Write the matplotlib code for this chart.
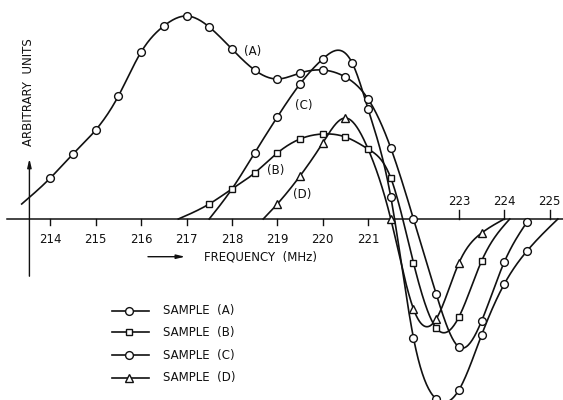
import numpy as np
import matplotlib
matplotlib.use("Agg")
import matplotlib.pyplot as plt

# frequency (MHz) and response (arbitrary units)
a_freq = [213.37, 214.0, 214.5, 215.0, 215.5, 216.0, 216.5, 217.0, 217.5, 218.0, 218.5,
          219.0, 219.5, 220.0, 220.5, 221.0, 221.5, 222.0, 222.5, 223.0, 223.5, 224.0, 224.5]
a_val = [1.5, 4.1, 6.5, 8.9, 12.3, 16.7, 19.3, 20.3, 19.2, 17.0, 14.9,
         14.0, 14.6, 14.9, 14.2, 12.0, 7.1, 0.0, -7.5, -12.8, -10.2, -4.3, -0.3]
a_bare = [0]

b_freq = [216.82, 217.5, 218.0, 218.5, 219.0, 219.5, 220.0, 220.5, 221.0, 221.5,
          222.0, 222.5, 223.0, 223.5, 224.12]
b_val = [0.0, 1.5, 3.0, 4.6, 6.6, 8.0, 8.5, 8.2, 7.0, 4.1,
         -4.4, -10.9, -9.8, -4.2, 0.0]
b_bare = [0, 14]

c_freq = [217.5, 218.0, 218.5, 219.0, 219.5, 220.0, 220.65, 221.0, 221.5, 222.0,
          222.5, 223.0, 223.5, 224.0, 224.5, 225.18]
c_val = [0.0, 3.0, 6.6, 10.2, 13.5, 16.0, 15.6, 11.0, 2.2, -11.9,
         -18.0, -17.1, -11.6, -6.5, -3.2, 0.0]
c_bare = [0, 1, 15]

d_freq = [218.69, 219.0, 219.5, 220.0, 220.5, 221.0, 221.5, 222.0, 222.5, 223.0, 223.5, 224.0]
d_val = [0.0, 1.5, 4.3, 7.6, 10.1, 7.0, 0.0, -9.0, -10.0, -4.4, -1.4, 0.0]
d_bare = [0, 5, 11]

ticks_below = [214, 215, 216, 217, 218, 219, 220, 221]
ticks_above = [223, 224, 225]


def smooth(x, y, n=500):
    # natural cubic spline, to get the french-curve look
    x = np.asarray(x, float)
    y = np.asarray(y, float)
    k = len(x)
    h = np.diff(x)
    A = np.zeros((k, k))
    r = np.zeros(k)
    A[0, 0] = A[-1, -1] = 1
    for i in range(1, k - 1):
        A[i, i - 1] = h[i - 1]
        A[i, i] = 2 * (h[i - 1] + h[i])
        A[i, i + 1] = h[i]
        r[i] = 3 * ((y[i + 1] - y[i]) / h[i] - (y[i] - y[i - 1]) / h[i - 1])
    c = np.linalg.solve(A, r)
    b = (y[1:] - y[:-1]) / h - h * (2 * c[:-1] + c[1:]) / 3
    d = (c[1:] - c[:-1]) / (3 * h)
    xs = np.linspace(x[0], x[-1], n)
    idx = np.clip(np.searchsorted(x, xs) - 1, 0, k - 2)
    t = xs - x[idx]
    ys = y[idx] + b[idx] * t + c[idx] * t ** 2 + d[idx] * t ** 3
    return xs, ys


fig = plt.figure(figsize=(5.63, 4.0), dpi=100)
ax = fig.add_axes([0, 0, 1, 1])
ax.set_xlim(212.892, 225.293)
ax.set_ylim(-18.1, 21.9)
ax.axis("off")

ink = "#111111"
plt.rcParams["font.family"] = "DejaVu Sans"
fs = 8.5

series = [
    ("(A)", a_freq, a_val, a_bare, "o", 5.6),
    ("(B)", b_freq, b_val, b_bare, "s", 5.0),
    ("(C)", c_freq, c_val, c_bare, "o", 5.6),
    ("(D)", d_freq, d_val, d_bare, "^", 6.0),
]

# axes drawn by hand like the original
ax.plot([213.05, 225.293], [0, 0], color=ink, lw=1.1)
ax.annotate("", xy=(213.54, 6.3), xytext=(213.54, -6.0),
            arrowprops=dict(arrowstyle="-|>,head_length=0.5,head_width=0.12",
                            color=ink, lw=1.0))
for t in ticks_below:
    ax.plot([t, t], [0, -0.6], color=ink, lw=1.0)
    ax.text(t, -2.1, str(t), ha="center", va="center", fontsize=fs, color=ink)
for t in ticks_above:
    ax.plot([t, t], [0, 0.9], color=ink, lw=1.0)
    ax.text(t, 1.7, str(t), ha="center", va="center", fontsize=fs, color=ink)

for name, f, v, bare, m, ms in series:
    xs, ys = smooth(f, v)
    ax.plot(xs, ys, color=ink, lw=1.2, zorder=2)
    keep = [i for i in range(len(f)) if i not in bare]
    ax.plot([f[i] for i in keep], [v[i] for i in keep], ls="none", marker=m,
            ms=ms, mfc="white", mec=ink, mew=1.0, zorder=3)

ax.text(218.46, 16.8, "(A)", fontsize=fs, ha="center", va="center", color=ink)
ax.text(218.97, 4.8, "(B)", fontsize=fs, ha="center", va="center", color=ink)
ax.text(219.58, 11.3, "(C)", fontsize=fs, ha="center", va="center", color=ink)
ax.text(219.54, 2.4, "(D)", fontsize=fs, ha="center", va="center", color=ink)

ax.text(213.53, 12.7, "ARBITRARY  UNITS", rotation=90, fontsize=fs,
        ha="center", va="center", color=ink)
ax.annotate("", xy=(217.03, -3.77), xytext=(216.09, -3.77),
            arrowprops=dict(arrowstyle="-|>,head_length=0.5,head_width=0.12",
                            color=ink, lw=1.0))
ax.text(217.39, -3.77, "FREQUENCY  (MHz)", fontsize=fs, ha="left", va="center", color=ink)

# legend
rows = [-9.17, -11.33, -13.6, -15.87]
for (name, f, v, bare, m, ms), yy in zip(series, rows):
    ax.plot([215.35, 216.18], [yy, yy], color=ink, lw=1.2)
    ax.plot([215.74], [yy], marker=m, ms=ms, mfc="white", mec=ink, mew=1.0)
    ax.text(216.48, yy, "SAMPLE  " + name, fontsize=fs, ha="left", va="center", color=ink)

fig.savefig("out.png", dpi=100, facecolor="white")
